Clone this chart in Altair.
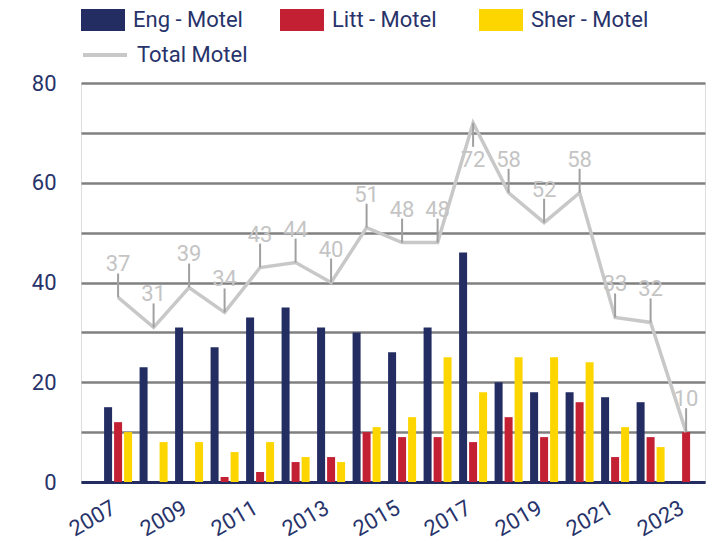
import altair as alt
import pandas as pd

years = [str(y) for y in range(2007, 2024)]
series = ["Eng - Motel", "Litt - Motel", "Sher - Motel"]
eng = [15, 23, 31, 27, 33, 35, 31, 30, 26, 31, 46, 20, 18, 18, 17, 16, 0]
litt = [12, 0, 0, 1, 2, 4, 5, 10, 9, 9, 8, 13, 9, 16, 5, 9, 10]
sher = [10, 8, 8, 6, 8, 5, 4, 11, 13, 25, 18, 25, 25, 24, 11, 7, 0]
total = [37, 31, 39, 34, 43, 44, 40, 51, 48, 48, 72, 58, 52, 58, 33, 32, 10]
x_label_years = years[::2]

NAVY = "#232d62"
TXT = "#27336a"
colors = [NAVY, "#c32034", "#fdd600"]

rows = []
for i, y in enumerate(years):
    for s, vals in zip(series, [eng, litt, sher]):
        rows.append({"year": y, "series": s, "value": vals[i]})
bars_df = pd.DataFrame(rows)
tot_df = pd.DataFrame({"year": years, "total": total, "name": "Total Motel"})

xscale = alt.Scale(paddingInner=0.155, paddingOuter=0.366, align=0.85)
x_axis = alt.Axis(values=x_label_years, labelAngle=-30, labelAlign="right",
                  labelBaseline="top", labelPadding=15, labelOffset=-9,
                  labelFontSize=22, labelColor=TXT, ticks=False, grid=False,
                  domainColor=NAVY, domainWidth=3, title=None,
                  labelFont="Roboto", labelOverlap=False)
yscale = alt.Scale(domain=[0, 80], nice=False)
y_axis = alt.Axis(values=list(range(0, 81, 10)),
                  labelExpr="datum.value % 20 == 0 ? datum.label : ''",
                  domain=False, ticks=False, labelPadding=25, labelFontSize=22,
                  labelColor=TXT, gridColor="#808080", gridWidth=2.5, title=None,
                  labelFont="Roboto")

bars = alt.Chart(bars_df).mark_bar().encode(
    x=alt.X("year:O", scale=xscale, axis=x_axis, sort=years),
    xOffset=alt.XOffset("series:N", sort=series,
                        scale=alt.Scale(paddingInner=0.2, paddingOuter=0.1)),
    y=alt.Y("value:Q", scale=yscale, axis=y_axis),
    color=alt.Color("series:N", sort=series,
                    scale=alt.Scale(domain=series, range=colors),
                    legend=alt.Legend(orient="none", legendX=0, legendY=-85,
                                      direction="horizontal", columns=3,
                                      gridAlign="all", columnPadding=29,
                                      symbolType="M-1,-0.5H1V0.5H-1Z",
                                      symbolSize=1936, symbolStrokeWidth=0,
                                      labelFontSize=22, labelColor=TXT,
                                      labelFont="Roboto", labelOffset=8,
                                      title=None, padding=0)),
)

line = alt.Chart(tot_df).mark_line(strokeWidth=3.5).encode(
    x=alt.X("year:O", sort=years),
    y=alt.Y("total:Q"),
    stroke=alt.Stroke("name:N",
                      scale=alt.Scale(domain=["Total Motel"], range=["#c8c8c8"]),
                      legend=alt.Legend(orient="none", legendX=0, legendY=-52,
                                        symbolType="stroke", symbolSize=1936,
                                        symbolStrokeWidth=4, labelFontSize=22,
                                        labelColor=TXT, labelFont="Roboto",
                                        labelOffset=8, title=None, padding=0)),
)

leaders = alt.Chart(tot_df).transform_calculate(
    y2="datum.total + (datum.total > 70 ? -4.8 : 4.8)"
).mark_rule(color="#a0a0a0", strokeWidth=2).encode(
    x=alt.X("year:O", sort=years),
    y="total:Q",
    y2="y2:Q",
)

lab_above = alt.Chart(tot_df).transform_filter("datum.total <= 70").mark_text(
    baseline="alphabetic", dy=-26, fontSize=22, color="#c4c4c4", font="Roboto"
).encode(x=alt.X("year:O", sort=years), y="total:Q", text="total:Q")

lab_below = alt.Chart(tot_df).transform_filter("datum.total > 70").mark_text(
    baseline="alphabetic", dy=44, fontSize=22, color="#c4c4c4", font="Roboto"
).encode(x=alt.X("year:O", sort=years), y="total:Q", text="total:Q")

chart = alt.layer(bars, line, leaders, lab_above, lab_below).properties(
    width=624, height=399,
    autosize=alt.AutoSizeParams(type="none"),
    padding={"left": 73, "top": 75, "right": 4, "bottom": 62},
).resolve_legend(color="independent", stroke="independent").configure_view(
    stroke=None
).configure(font="Roboto")

chart.save("out.html", embed_options={"renderer": "svg", "actions": False})
